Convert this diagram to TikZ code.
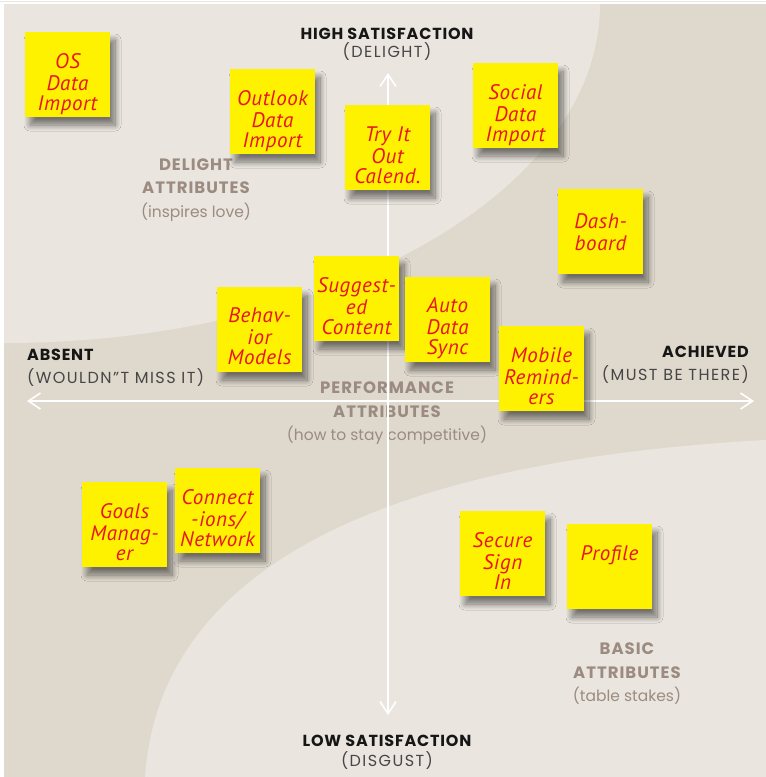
\documentclass[tikz,border=0pt]{standalone}
\usepackage{fontspec}
\setmainfont{Poppins}
\newfontfamily\handfont{PT Sans}
\usetikzlibrary{arrows.meta,shadows.blur}

\definecolor{paperlight}{HTML}{EAE6DF}
\definecolor{paperdark}{HTML}{DFD9CD}
\definecolor{taupe}{HTML}{9B8B80}
\definecolor{inkgray}{HTML}{464646}
\definecolor{inkblack}{HTML}{161616}
\definecolor{postit}{HTML}{FFF200}
\definecolor{marker}{HTML}{E8141E}

% bold, tracked heading line inside a zone label
\newcommand\zonecaps[1]{{\addfontfeature{LetterSpace=6}\bfseries\fontsize{16.5}{23.5}\selectfont #1}}

\tikzset{
  axisline/.style={draw=white, line width=2pt,
    {Straight Barb[length=12pt,width=16pt,line width=1.6pt]}-{Straight Barb[length=12pt,width=16pt,line width=1.6pt]}},
  polelabel/.style={inner sep=0pt, text=inkblack,
    font=\addfontfeature{LetterSpace=5}\bfseries\fontsize{16}{19}\selectfont},
  polesub/.style={inner sep=0pt, text=inkgray,
    font=\addfontfeature{LetterSpace=9}\fontsize{16}{19}\selectfont},
  zonelabel/.style={inner sep=0pt, align=center, text=taupe, font=\fontsize{15.5}{23.5}\selectfont},
  note/.style={fill=postit, minimum size=85pt, inner sep=0pt,
    blur shadow={shadow xshift=5pt, shadow yshift=-8pt, shadow blur radius=6pt,
      shadow opacity=50, shadow blur steps=16}},
  scrawl/.style={anchor=north, align=center, text=marker, inner sep=0pt,
    font=\handfont\itshape\addfontfeature{LetterSpace=3}\fontsize{21}{20}\selectfont},
}

\begin{document}
\begin{tikzpicture}[x=1pt,y=-1pt]
  \useasboundingbox (0,0) rectangle (766,777);

  % paper and the two lighter zones
  \fill[white] (0,0) rectangle (766,777);
  \fill[paperlight] (0,1) rectangle (766,2.2);
  \fill[paperdark] (4,4) rectangle (766,777);
  \fill[paperlight] (4,4) -- (600,4)
    .. controls (600,191) and (333,343) .. (4,343) -- cycle;
  \fill[paperlight] (145,777) .. controls (160,560) and (400,460) .. (766,440)
    -- (766,777) -- cycle;

  % pole labels
  \node[polelabel] (high) at (387,33.5) {HIGH SATISFACTION};
  \node[polesub] (highsub) at (387,52) {(DELIGHT)};
  \node[polelabel] (low) at (387,741) {LOW SATISFACTION};
  \node[polesub] (lowsub) at (387,761) {(DISGUST)};
  \node[polelabel, anchor=west] (absent) at (27,355) {ABSENT};
  \node[polesub, anchor=west] (absentsub) at (27,377.5) {(WOULDN”T MISS IT)};
  \node[polelabel, anchor=east] (achieved) at (749,352) {ACHIEVED};
  \node[polesub, anchor=east] (achievedsub) at (749,375) {(MUST BE THERE)};

  % zone labels
  \node[zonelabel] (delightzone) at (196,190)
    {\zonecaps{DELIGHT}\\\zonecaps{ATTRIBUTES}\\(inspires love)};
  \node[zonelabel] (perfzone) at (387,413.5)
    {\zonecaps{PERFORMANCE}\\\zonecaps{ATTRIBUTES}\\(how to stay competitive)};
  \node[zonelabel] (basiczone) at (627,674)
    {\zonecaps{BASIC}\\\zonecaps{ATTRIBUTES}\\(table stakes)};

  % axes
  \coordinate (west) at (27,401);
  \coordinate (east) at (754,401);
  \coordinate (north) at (388,73);
  \coordinate (south) at (388,715);
  \draw[axisline] (west) -- (east);
  \draw[axisline] (south) -- (north);

  % sticky notes
  \node[note] (os) at (67.5,74.5) {};
  \node[note] (outlook) at (272.5,111.5) {};
  \node[note] (tryit) at (387.5,147.5) {};
  \node[note] (social) at (515.5,105.5) {};
  \node[note] (dash) at (600.5,231.5) {};
  \node[note] (suggest) at (356.5,298.5) {};
  \node[note] (behav) at (259.5,329.5) {};
  \node[note] (auto) at (447.5,319.5) {};
  \node[note] (mobile) at (541.5,368.5) {};
  \node[note] (goals) at (124.5,524.5) {};
  \node[note] (connect) at (217.5,510.5) {};
  \node[note] (secure) at (502.5,553.5) {};
  \node[note] (profile) at (609.5,566.5) {};

  \node[scrawl] (os-t) at ([yshift=-22pt]os.north) {\strut OS\\Data\\Import};
  \node[scrawl] (outlook-t) at ([yshift=-22pt]outlook.north) {\strut Outlook\\Data\\Import};
  \node[scrawl] (tryit-t) at ([yshift=-22pt]tryit.north) {\strut Try It\\Out\\Calend.};
  \node[scrawl] (social-t) at ([yshift=-22pt]social.north) {\strut Social\\Data\\Import};
  \node[scrawl] (dash-t) at ([yshift=-25pt]dash.north) {\strut Dash-\\board};
  \node[scrawl] (suggest-t) at ([yshift=-22pt]suggest.north) {\strut Suggest-\\ed\\Content};
  \node[scrawl] (behav-t) at ([yshift=-20.5pt]behav.north) {\strut Behav-\\ior\\Models};
  \node[scrawl] (auto-t) at ([yshift=-20.5pt]auto.north) {\strut Auto\\Data\\Sync};
  \node[scrawl] (mobile-t) at ([yshift=-21.5pt]mobile.north) {\strut Mobile\\Remind-\\ers};
  \node[scrawl] (goals-t) at ([yshift=-22pt]goals.north) {\strut Goals\\Manag-\\er};
  \node[scrawl] (connect-t) at ([yshift=-22pt]connect.north) {\strut Connect\\-ions/\\Network};
  \node[scrawl] (secure-t) at ([yshift=-21.5pt]secure.north) {\strut Secure\\Sign\\In};
  \node[scrawl] (profile-t) at ([yshift=-21.5pt]profile.north) {\strut Profile};
\end{tikzpicture}
\end{document}
